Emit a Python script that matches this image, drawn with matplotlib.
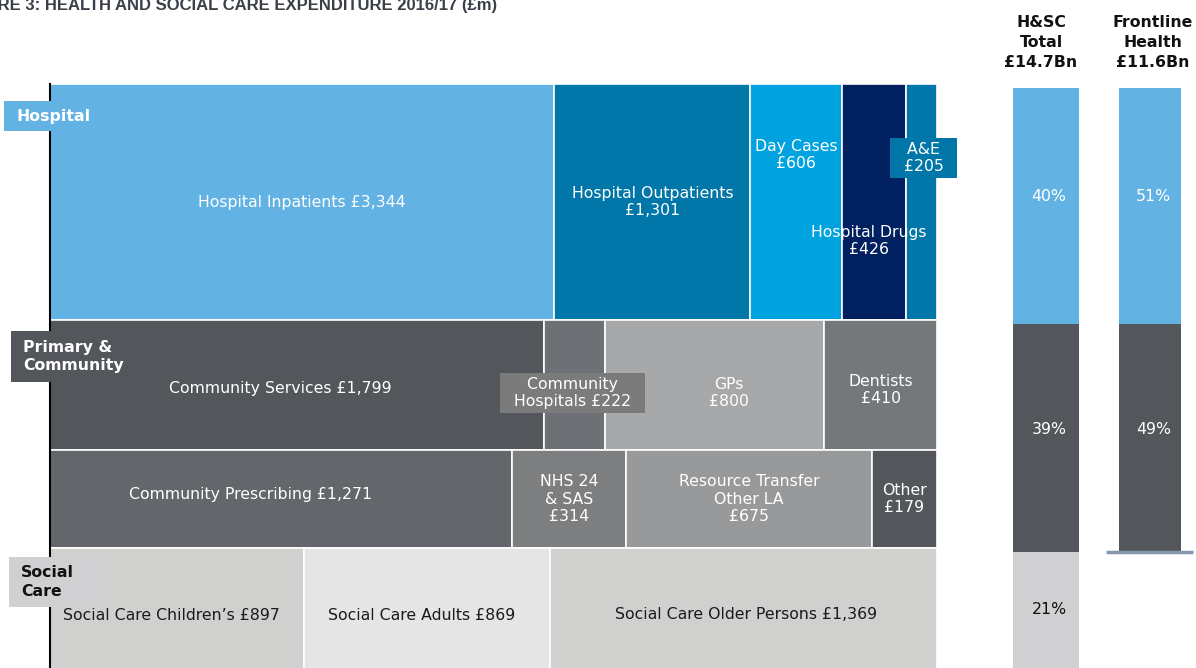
import matplotlib
matplotlib.use("Agg")
import matplotlib.pyplot as plt
from matplotlib.patches import Rectangle

# ---- data (£m, 2016/17) ----
hosp_names = ["Hospital Inpatients ", "Hospital Outpatients\n", "Day Cases\n",
              "Hospital Drugs\n", "A&E\n"]
hosp_values = [3344, 1301, 606, 426, 205]

prim1_names = ["Community Services ", "Community\nHospitals ", "GPs\n", "Dentists\n"]
prim1_values = [1799, 222, 800, 410]

prim2_names = ["Community Prescribing ", "NHS 24\n& SAS\n", "Resource Transfer\nOther LA\n", "Other\n"]
prim2_values = [1271, 314, 675, 179]

social_names = ["Social Care Children\u2019s ", "Social Care Adults ", "Social Care Older Persons "]
social_values = [897, 869, 1369]

section_names = ["Hospital", "Primary &\nCommunity", "Social\nCare"]
bar_headers = ["H&SC\nTotal", "Frontline\nHealth"]

# ---- styling ----
hosp_colors = ["#62b3e4", "#0077a8", "#00a3e0", "#002060", "#0077a8"]
prim1_colors = ["#53565a", "#6d7074", "#a7a8aa", "#75787b"]
prim2_colors = ["#63666a", "#7d7e80", "#97999b", "#53565a"]
social_colors = ["#d0d0ce", "#e5e5e5", "#d0d0ce"]
section_colors = ["#62b3e4", "#53565a", "#d0cfd1"]
section_text = ["white", "white", "#111111"]

# label nudges in pixels (dx right, dy up) and label boxes (colour, side spaces)
nudge = {"Day Cases\n": (0, 47), "Hospital Drugs\n": (-5, -39), "A&E\n": (2, 44),
         "Community Services ": (-17, -3), "Community\nHospitals ": (-2, -8),
         "GPs\n": (14, -8), "Dentists\n": (0, -5), "Community Prescribing ": (-31, 5),
         "Social Care Children\u2019s ": (-5, -4), "Social Care Adults ": (-5, -4),
         "Social Care Older Persons ": (3, -3)}
label_box = {"A&E\n": ("#0077a8", 2), "Community\nHospitals ": ("#7b7b7b", 2)}

FS = 11.3
FONT = "DejaVu Sans"
W, H = 1196, 668

def px_box(l, t, r, b):
    return [l / W, 1 - b / H, (r - l) / W, (b - t) / H]

fig = plt.figure(figsize=(W / 100, H / 100), dpi=100)

rows = [(hosp_names, hosp_values, hosp_colors),
        (prim1_names, prim1_values, prim1_colors),
        (prim2_names, prim2_values, prim2_colors),
        (social_names, social_values, social_colors)]
grand_total = sum(sum(r[1]) for r in rows)
front_total = sum(hosp_values) + sum(prim1_values) + sum(prim2_values)

# ---- treemap ----
ax = fig.add_axes(px_box(50, 84, 937, 674))
ax.set_xlim(0, 1)
ax.set_ylim(grand_total, 0)
ax.set_xticks([]); ax.set_yticks([])
for s in ["top", "right", "bottom"]:
    ax.spines[s].set_visible(False)
ax.spines["left"].set_color("black")
ax.spines["left"].set_linewidth(1.5)
ax.spines["left"].set_zorder(5)

y0 = 0
for names, vals, cols in rows:
    rt = sum(vals)
    x0 = 0
    for n, v, c in zip(names, vals, cols):
        w = v / rt
        ax.add_patch(Rectangle((x0, y0), w, rt, facecolor=c, edgecolor="white", lw=1.2))
        dx, dy = nudge.get(n, (0, 0))
        tc = "#1a1a1a" if c in ("#d0d0ce", "#e5e5e5") else "white"
        label = f"{n}£{v:,}"
        bb = None
        if n in label_box:
            bc, sp = label_box[n]
            pad = " " * sp
            label = "\n".join(pad + ln + pad for ln in label.split("\n"))
            bb = dict(boxstyle="square,pad=0.25", facecolor=bc, edgecolor="none")
        ax.annotate(label, (x0 + w / 2, y0 + rt / 2), xytext=(dx * 0.72, dy * 0.72),
                    textcoords="offset points", ha="center", va="center", color=tc,
                    fontsize=FS, family=FONT, linespacing=1.2, bbox=bb,
                    annotation_clip=False, zorder=6)
        x0 += w
    y0 += rt

# ---- section label boxes (figure pixels) ----
sec_boxes = [(4, 101, 100, 131), (11, 331, 142, 382), (9, 557, 110, 607)]
for name, (l, t, r, b), fc, tc in zip(section_names, sec_boxes, section_colors, section_text):
    fig.add_artist(Rectangle((l / W, 1 - b / H), (r - l) / W, (b - t) / H,
                             transform=fig.transFigure, facecolor=fc, edgecolor="none", zorder=10))
    fig.text((l + 12) / W, 1 - ((t + b) / 2) / H, name, ha="left", va="center", color=tc,
             fontsize=FS, fontweight="bold", family=FONT, linespacing=1.28, zorder=11)

# ---- stacked share bars ----
sec_totals = [sum(hosp_values), sum(prim1_values) + sum(prim2_values), sum(social_values)]
bar_values = [sec_totals, sec_totals[:2]]
bar_totals = [grand_total, front_total]
bar_widths = [0.63, 0.6]
pct_colors = ["white", "white", "#111111"]

ax2 = fig.add_axes(px_box(996, 88, 1196, 678))
ax2.set_xlim(-0.48, 1.44)
ax2.set_ylim(grand_total, 0)
ax2.axis("off")
for i, (vals, tot, bw) in enumerate(zip(bar_values, bar_totals, bar_widths)):
    bottom = 0
    for j, v in enumerate(vals):
        ax2.bar(i, v, bottom=bottom, width=bw, color=section_colors[j], edgecolor="none")
        ax2.text(i + 0.03, bottom + 0.46 * v, f"{round(100 * v / tot)}%", ha="center", va="center",
                 color=pct_colors[j], fontsize=FS, family=FONT)
        bottom += v
    fig.text((1041 + 112 * i) / W, 1 - 70 / H, f"{bar_headers[i]}\n£{tot / 1000:.1f}Bn",
             ha="center", va="bottom", fontsize=FS, fontweight="bold", family=FONT,
             linespacing=1.42, color="#111111")
ax2.plot([0.58, 1.41], [front_total, front_total], color="#8596ad", lw=2.5,
         solid_capstyle="butt", clip_on=False)

# ---- title (cut off at the top-left in the source) ----
fig.text(497 / W, 1 - 10 / H, "FIGURE 3: HEALTH AND SOCIAL CARE EXPENDITURE 2016/17 (£m)",
         ha="right", va="baseline", fontsize=12, fontweight="bold", color="#3a3f48",
         family="Liberation Sans")

fig.savefig("out.png", dpi=100)
